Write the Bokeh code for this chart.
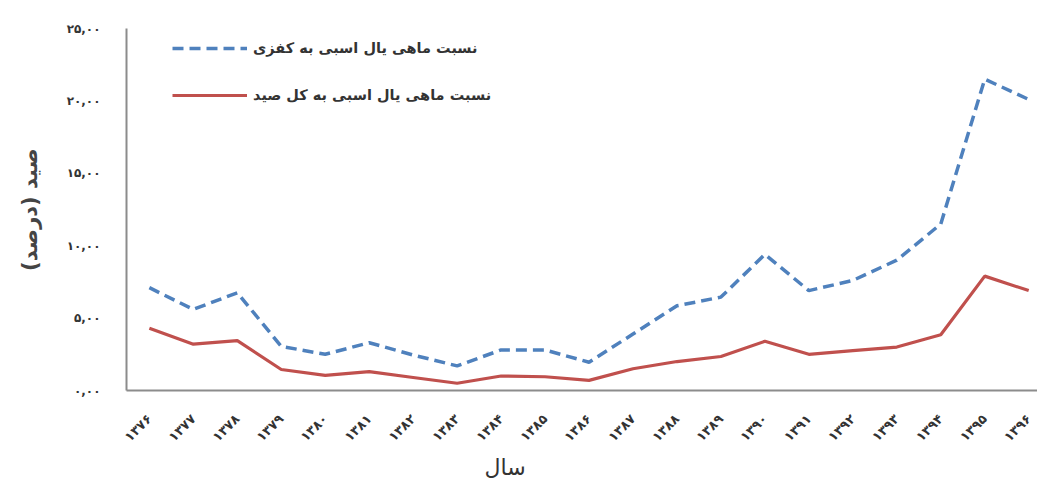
from bokeh.plotting import figure
from bokeh.models import Range1d, FixedTicker, Legend, LegendItem, Title
from bokeh.embed import file_html
from bokeh.resources import INLINE

# Years (Persian calendar) shown on the x axis
years = ["۱۳۷۶", "۱۳۷۷", "۱۳۷۸", "۱۳۷۹", "۱۳۸۰", "۱۳۸۱", "۱۳۸۲", "۱۳۸۳", "۱۳۸۴", "۱۳۸۵", "۱۳۸۶",
         "۱۳۸۷", "۱۳۸۸", "۱۳۸۹", "۱۳۹۰", "۱۳۹۱", "۱۳۹۲", "۱۳۹۳", "۱۳۹۴", "۱۳۹۵", "۱۳۹۶"]

# Share of ribbonfish in demersal catch (%)
ratio_demersal = [7.1, 5.6, 6.75, 3.05, 2.5, 3.3, 2.45, 1.7, 2.8, 2.8, 1.95,
                  3.9, 5.85, 6.45, 9.4, 6.9, 7.6, 9.0, 11.5, 21.5, 20.1]

# Share of ribbonfish in total catch (%)
ratio_total = [4.3, 3.2, 3.45, 1.45, 1.05, 1.3, 0.9, 0.5, 1.0, 0.95, 0.7,
               1.5, 2.0, 2.35, 3.4, 2.5, 2.75, 3.0, 3.85, 7.9, 6.9]

y_ticks = [0, 5, 10, 15, 20, 25]
y_tick_labels = ["۰,۰۰", "۵,۰۰", "۱۰,۰۰", "۱۵,۰۰", "۲۰,۰۰", "۲۵,۰۰"]

legend_demersal = "نسبت ماهی یال اسبی به کفزی"
legend_total = "نسبت ماهی یال اسبی به کل صید"
x_title = "سال"
y_title = "صید (درصد)"

FONT = "DejaVu Sans"
xs = list(range(len(years)))

p = figure(width=1037, height=486, output_backend="svg", toolbar_location=None,
           x_range=Range1d(-0.52, 20.2), y_range=Range1d(0, 25),
           min_border_left=126, min_border_right=0, min_border_top=28, min_border_bottom=96)
p.outline_line_color = None
p.grid.grid_line_color = None
p.background_fill_color = "white"
p.border_fill_color = "white"

r_dem = p.line(xs, ratio_demersal, line_color="#4F81BD", line_width=3.5, line_dash="11 6")
r_tot = p.line(xs, ratio_total, line_color="#C0504D", line_width=3.2)

# Axes
for ax in (p.xaxis[0], p.yaxis[0]):
    ax.axis_line_color = "#8c8c8c"
    ax.axis_line_width = 2
    ax.major_tick_line_color = None
    ax.minor_tick_line_color = None
    ax.major_label_text_font = FONT
    ax.major_label_text_font_style = "bold"
    ax.major_label_text_color = "#333333"

p.xaxis.ticker = FixedTicker(ticks=xs)
p.xaxis.major_label_overrides = {i: y for i, y in enumerate(years)}
p.xaxis.major_label_orientation = 0.785
p.xaxis.major_label_text_font_size = "13px"
p.xaxis.major_label_standoff = 20

p.yaxis.ticker = FixedTicker(ticks=y_ticks)
p.yaxis.major_label_overrides = {t: s for t, s in zip(y_ticks, y_tick_labels)}
p.yaxis.major_label_text_font_size = "12px"
p.yaxis.major_label_standoff = 20
p.yaxis.axis_label = y_title
p.yaxis.axis_label_text_font = FONT
p.yaxis.axis_label_text_font_size = "21px"
p.yaxis.axis_label_text_font_style = "bold"
p.yaxis.axis_label_text_color = "#444444"
p.yaxis.axis_label_standoff = 22

# x-axis title, placed under the tick labels
p.add_layout(Title(text=x_title, text_font=FONT, text_font_size="22px",
                   text_font_style="normal", text_color="#333333",
                   align="left", offset=358, standoff=0), "below")

legend = Legend(items=[LegendItem(label=legend_demersal, renderers=[r_dem]),
                       LegendItem(label=legend_total, renderers=[r_tot])],
                location=(46, 285), orientation="vertical")
legend.border_line_color = None
legend.background_fill_alpha = 0
legend.padding = 0
legend.margin = 0
legend.glyph_width = 75
legend.glyph_height = 20
legend.label_height = 20
legend.spacing = 27
legend.label_standoff = 6
legend.label_text_font = FONT
legend.label_text_font_size = "14.5px"
legend.label_text_font_style = "bold"
legend.label_text_color = "#333333"
p.add_layout(legend)

open("out.html", "w").write(file_html(p, INLINE))
